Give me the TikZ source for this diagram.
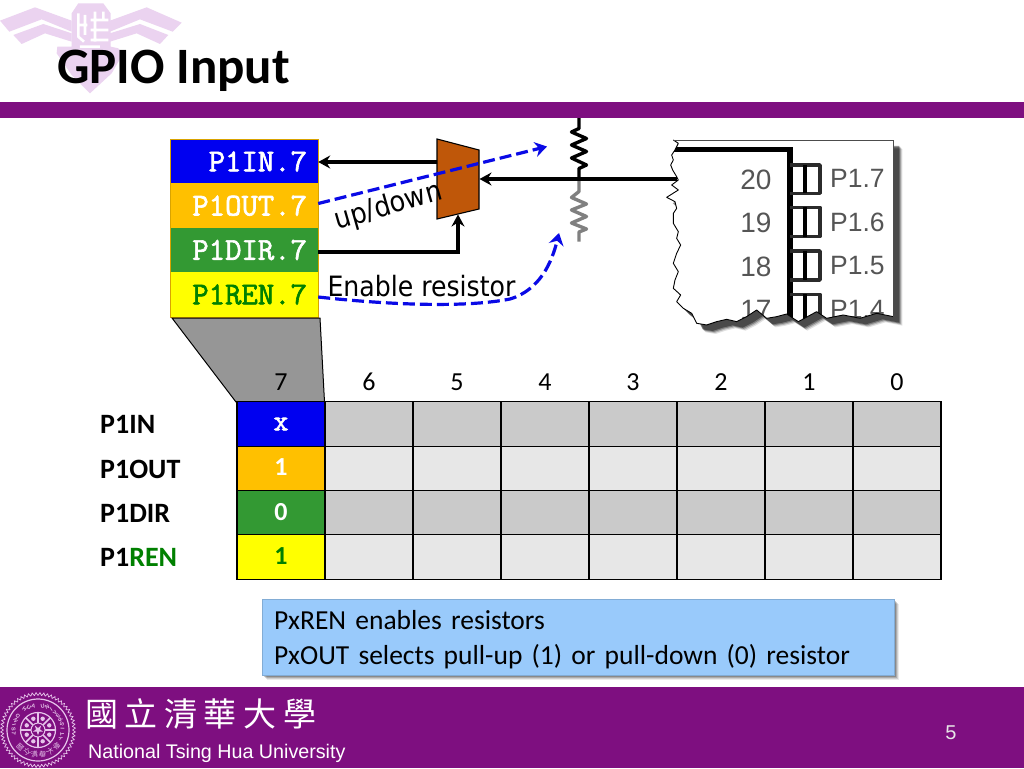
\documentclass[tikz,border=0pt]{standalone}
\usepackage{fontspec}
\setmainfont{Carlito}
\newfontfamily\arialf{Liberation Sans}
\newfontfamily\tahomaf{DejaVu Sans Condensed}
\newfontfamily\cjkf[LetterSpace=20]{Noto Sans CJK TC}
\newfontfamily\cjksmall{Noto Sans CJK TC}
\newfontfamily\courb[FakeBold=2]{Latin Modern Mono}
\usetikzlibrary{arrows.meta,calc}
\definecolor{nthu}{HTML}{7E0F80}
\definecolor{pale}{HTML}{EBD3F0}
\definecolor{seal}{HTML}{E6C4EA}
\definecolor{cblue}{HTML}{0000F0}
\definecolor{camber}{HTML}{FFC000}
\definecolor{cgreen}{HTML}{339933}
\definecolor{cyel}{HTML}{FFFF00}
\definecolor{dgreen}{HTML}{008000}
\definecolor{gdark}{HTML}{CACACA}
\definecolor{glight}{HTML}{E7E7E7}
\definecolor{muxc}{HTML}{BF5709}
\definecolor{notec}{HTML}{99CAFB}
\definecolor{pin}{HTML}{2B2B2B}
\definecolor{chipt}{HTML}{555555}
\definecolor{dashb}{HTML}{0A0AE6}
\tikzset{
 regcell/.style={fill=#1,draw=none,minimum height=44.5pt,text width=125pt,inner xsep=11pt,inner ysep=0pt,align=right,font=\courb\fontsize{31.8}{33}\selectfont,text=white},
 gridcell/.style={fill=#1,draw=black,line width=1.2pt,minimum width=88pt,minimum height=44.3pt,inner sep=0pt,text=white,font=\bfseries\fontsize{26}{28}\selectfont},
 collab/.style={anchor=base,inner sep=0pt,font=\fontsize{26}{28}\selectfont,text=black},
 rowlab/.style={anchor=west,inner sep=0pt,font=\bfseries\fontsize{28}{30}\selectfont,text=black},
 wire/.style={draw=black,line width=3.2pt,-{Stealth[length=12pt,width=13pt,inset=4pt]}},
 blued/.style={draw=dashb,line width=3.2pt,dash pattern=on 12pt off 5pt,-{Stealth[length=12pt,width=15pt,inset=4pt]}},
 res/.style={draw=#1,line width=3.4pt,line join=round},
 floatlab/.style={inner sep=0pt,text=black,font=\tahomaf\fontsize{#1}{31}\selectfont},
 chipnum/.style={anchor=east,inner sep=0pt,text=chipt,font=\arialf\fontsize{28}{30}\selectfont},
 chippin/.style={anchor=west,inner sep=0pt,text=chipt,font=\arialf\fontsize{26.5}{28}\selectfont},
 pinbox/.style={draw=pin,line width=3.5pt,line join=round},
}
\begin{document}
\begin{tikzpicture}[x=1pt,y=-1pt]
\useasboundingbox (0,0) rectangle (1024,768);
\fill[white] (0,0) rectangle (1024,768);

% top emblem (zoom coordinates, 1/3 px)
\begin{scope}[x=0.3333pt,y=-0.3333pt]
 \fill[pale] (0,62)--(105,22)--(215,62)--(215,95)--(125,58)--(28,95)--cycle;
 \fill[pale] (40,105)--(130,72)--(215,100)--(215,125)--(135,100)--(65,132)--cycle;
 \fill[pale] (330,62)--(440,22)--(545,68)--(518,95)--(420,58)--(330,95)--cycle;
 \fill[pale] (330,100)--(420,72)--(505,105)--(480,132)--(410,100)--(330,125)--cycle;
 \fill[pale] (215,40)--(235,10)--(310,10)--(332,40)--(332,140)--(355,145)--(370,160)--(335,220)--(270,280)--(215,225)--(170,160)--(172,140)--(215,140)--cycle;
 \draw[white,line width=2.6pt] (235,40)--(235,110)--(252,125) (255,45)--(255,105) (232,75)--(262,75)
   (285,35)--(285,125) (310,35)--(310,60) (272,60)--(325,60) (272,90)--(325,90) (272,120)--(325,120) (240,140)--(300,140);
\end{scope}

% header
\node[anchor=west,inner sep=0pt,font=\bfseries\fontsize{51}{53}\selectfont,text=black] (title) at (57,71) {GPIO Input};
\fill[nthu] (0,102) rectangle (1024,118);

% footer
\fill[nthu] (0,687) rectangle (1024,768);
\begin{scope}[shift={(38,730)}]
 \draw[seal,line width=0.7pt] \foreach \a in {0,6,...,354}{ (\a:34.5) -- (\a+3:37.5) -- (\a+6:34.5)};
 \draw[seal,line width=1.2pt] (0,0) circle (31);
 \draw[seal,line width=1.2pt] (0,0) circle (17.5);
 \draw[seal,line width=1pt] (0,0) circle (7);
 \foreach \a in {0,45,...,315}{\draw[seal,line width=1.6pt] (\a:7) -- (\a:17.5);}
 \foreach \a in {22.5,67.5,...,337.5}{\fill[seal] (\a:12.2) circle (2.2);}
 \fill[seal] (90:5.5)--(126:2)--(162:5.5)--(198:2)--(234:5.5)--(270:2)--(306:5.5)--(342:2)--(18:5.5)--(54:2)--cycle;
 \foreach \c [count=\i] in {T,S,I,N,G,{ },H,U,A,{ },U,N,I,V,E,R,S,I,T,Y}{
   \pgfmathsetmacro{\ang}{160+\i*11}
   \node[text=seal,inner sep=0pt,rotate=\ang+90,font=\arialf\bfseries\fontsize{5.5}{6}\selectfont] at (\ang:24.5) {\c};}
 \foreach \c [count=\i] in {國,立,清,華,大,學}{
   \pgfmathsetmacro{\ang}{155-\i*19}
   \node[text=seal,inner sep=0pt,rotate=\ang-90,font=\cjksmall\fontsize{7}{8}\selectfont] at (\ang:24.5) {\c};}
\end{scope}
\node[anchor=west,inner sep=0pt,text=white,font=\cjkf\fontsize{33}{35}\selectfont] (nthuzh) at (85,714) {國立清華大學};
\node[anchor=west,inner sep=0pt,text=white,font=\arialf\fontsize{19.7}{22}\selectfont] (nthuen) at (88,753) {National Tsing Hua University};
\node[inner sep=0pt,text=glight,font=\arialf\fontsize{20}{22}\selectfont] (pageno) at (951,733) {5};

% chip picture (zoom coordinates)
\begin{scope}[shift={(560,110)},x=0.3333pt,y=-0.3333pt]
 \def\torn{(340,90)--(355,100)--(345,120)--(335,135)--(340,150)--(332,165)--(338,180)--(350,200)--(355,210)--(335,225)--(355,240)--(320,262)--(345,275)--(350,295)--(340,310)--(340,340)--(355,365)--(350,385)--(362,405)--(350,430)--(340,460)--(355,485)--(345,510)--(340,535)--(362,555)--(350,575)--(370,595)--(395,610)--(410,640)--(440,645)--(470,635)--(500,628)--(530,635)--(560,620)--(590,600)--(620,625)--(650,620)--(680,612)--(715,635)--(770,605)--(800,625)--(850,615)--(900,625)--(950,610)--(1000,620)--(1000,90)--cycle}
 \foreach \o/\op in {27/0.12,24/0.2,21/0.3,18/0.4}{
   \begin{scope}[shift={(\o,\o)}]\fill[black,opacity=\op] \torn;\end{scope}}
 \begin{scope}
  \clip \torn;
  \fill[white] (300,80) rectangle (1010,660);
  \draw[pin,line width=5.5pt] (340,119)--(690,119)--(690,660);
  \foreach \a/\b in {165/250,292/380,423/510}{
    \draw[pinbox] (690,\a) -- (780,\a) -- (780,\b) -- (690,\b);
    \draw[pin,line width=3.5pt] (735,\a) -- (735,\b);}
  \draw[pinbox] (690,553) -- (780,553) -- (780,660);
  \draw[pin,line width=3.5pt] (735,553) -- (735,660);
  \node[chipnum] (n20) at (635,210) {20};
  \node[chipnum] (n19) at (635,340) {19};
  \node[chipnum] (n18) at (635,470) {18};
  \node[chipnum] (n17) at (635,600) {17};
  \node[chippin] (p17) at (810,204) {P1.7};
  \node[chippin] (p16) at (810,338) {P1.6};
  \node[chippin] (p15) at (810,468) {P1.5};
  \node[chippin] (p14) at (810,598) {P1.4};
 \end{scope}
 \draw[black,line width=0.9pt,line join=round] (340,90)--(355,100)--(345,120)--(335,135)--(340,150)--(332,165)--(338,180)--(350,200)--(355,210)--(335,225)--(355,240)--(320,262)--(345,275)--(350,295)--(340,310)--(340,340)--(355,365)--(350,385)--(362,405)--(350,430)--(340,460)--(355,485)--(345,510)--(340,535)--(362,555)--(350,575)--(370,595)--(395,610)--(410,640)--(440,645)--(470,635)--(500,628)--(530,635)--(560,620)--(590,600)--(620,625)--(650,620)--(680,612)--(715,635)--(770,605)--(800,625)--(850,615)--(900,625)--(950,610)--(1000,620);
 \draw[black!70,line width=0.6pt] (1000,620)--(1000,90)--(340,90);
\end{scope}

% register stack
\node[regcell=cblue] (rin)  at (244.5,161.5) {P1IN.7};
\node[regcell=camber] (rout) at (244.5,205.7) {P1OUT.7};
\node[regcell=cgreen] (rdir) at (244.5,250) {P1DIR.7};
\node[regcell=cyel,text=dgreen] (rren) at (244.5,294.5) {P1REN.7};
\draw[camber!85!black,line width=0.9pt] (rin.north west) rectangle (rren.south east);

% zoom funnel
\coordinate (fa) at (172,318);
\coordinate (fb) at (320,318);
\filldraw[fill=black!41,draw=black,line width=1pt] (fa)--(fb)--(324.5,402)--(236,402)--cycle;

% resistors
\coordinate (jn) at (579,179);
\coordinate (chipin) at (677,179);
\coordinate (vtop) at (579,118);
\coordinate (vbot) at (579,241.5);
\draw[res=black!50] (jn)--(579,191.5)--(571.5,197.5)--(586.5,204)--(571.5,210)--(586.5,216.5)--(571.5,223)--(586.5,229)--(579,232)--(vbot);
\draw[res=black] (vtop)--(579,128.5)--(571.5,132)--(586.5,138.5)--(571.5,145)--(586.5,151.5)--(571.5,158)--(586.5,165)--(579,168.5)--(jn);

% mux
\coordinate (m1) at (437,139);
\coordinate (m2) at (479,150);
\coordinate (m3) at (479,209);
\coordinate (m4) at (437,219);
\filldraw[fill=muxc,draw=black,line width=1.1pt,line join=miter] (m1)--(m2)--(m3)--(m4)--cycle;
\coordinate (mout) at (437,162);
\coordinate (min) at (479.5,179);
\coordinate (msel) at (458,214.5);
\draw[wire] (mout) -- (rin.east |- mout);
\draw[wire] (chipin) -- (min);
\draw[wire] (rdir.east |- 0,252) -| (msel);

% free labels
\node[floatlab=28.5,rotate=16] (updown) at (388.5,207) {up/down};
\node[floatlab=28] (enres) at (421.5,286) {Enable resistor};

% dashed blue
\coordinate (t1) at (547,146.5);
\coordinate (t2) at (559,233);
\draw[blued] (rout.east |- 0,203.5) -- (t1);
\draw[blued] (rren.east |- 0,297) .. controls (400,306) and (470,307) .. (510,299) .. controls (540,290) and (552,262) .. (t2);

% grid
\foreach \c [count=\i from 0] in {7,6,5,4,3,2,1,0}{
  \node[collab] (c\c) at (281+88*\i,390) {\c};}
\foreach \r/\y/\col in {0/424/gdark,1/468.3/glight,2/512.6/gdark,3/557/glight}{
  \foreach \i in {1,...,7}{
    \node[gridcell=\col] (g\r\i) at (281+88*\i,\y) {};}}
\node[gridcell=cblue,font=\courb\fontsize{29}{30}\selectfont] (g00) at (281,424) {};
\node[gridcell=camber] (g10) at (281,468.3) {};
\node[gridcell=cgreen] (g20) at (281,512.6) {};
\node[gridcell=cyel] (g30) at (281,557) {};
\node[inner sep=0pt,text=white,font=\courb\fontsize{29}{30}\selectfont] (v0) at (281,424) {x};
\node[inner sep=0pt,text=white,font=\bfseries\fontsize{26}{28}\selectfont] (v1) at (281,467) {1};
\node[inner sep=0pt,text=white,font=\bfseries\fontsize{26}{28}\selectfont] (v2) at (281,512) {0};
\node[inner sep=0pt,text=dgreen,font=\bfseries\fontsize{26}{28}\selectfont] (v3) at (281,556) {1};
\node[rowlab] (l0) at (100,424.5) {P1IN};
\node[rowlab] (l1) at (100,469) {P1OUT};
\node[rowlab] (l2) at (100,513) {P1DIR};
\node[rowlab] (l3) at (100,557.5) {P1\textcolor{dgreen}{REN}};

% note
\foreach \o/\op in {5/0.08,4/0.12,3/0.16,2/0.2}{
  \fill[black,opacity=\op] (262+\o,599+\o) rectangle (894+\o,675+\o);}
\node[draw=notec!85!black,line width=0.7pt,fill=notec,minimum width=632pt,minimum height=76pt,inner sep=0pt] (note) at (578,637) {};
\node[inner sep=0pt,text width=608pt,align=left,font=\fontsize{27.5}{35}\selectfont,text=black] (notetext) at (578,640) {PxREN enables resistors\\PxOUT selects pull-up (1) or pull-down (0) resistor};
\end{tikzpicture}
\end{document}
